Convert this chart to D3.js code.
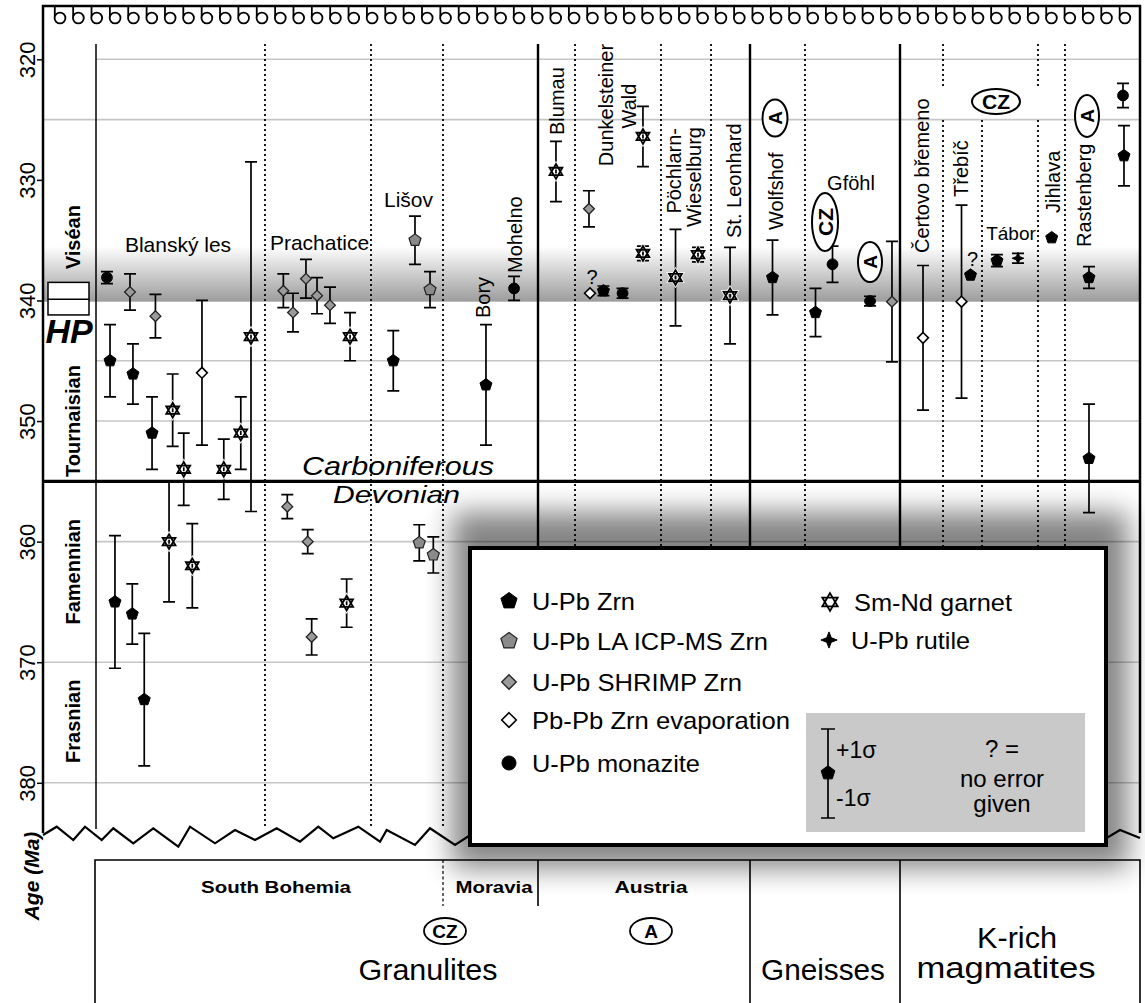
<!DOCTYPE html>
<html><head><meta charset="utf-8">
<script src="https://cdn.jsdelivr.net/npm/d3@7"></script>
<style>
body{margin:0;background:#fff;}
svg{display:block;font-family:"Liberation Sans",Arial,sans-serif;}
</style>
</head><body>
<svg id="c" width="1145" height="1003"></svg>
<script>
// ---------------- DATA ----------------
const ageTicks = [320, 330, 340, 350, 360, 370, 380];
const gridAges = [320, 325, 345, 350, 360, 370, 380];
const stageNames = ["Viséan", "Tournaisian", "Famennian", "Frasnian"];
const stageMidAges = [334.75, 350.0, 362.5, 374.9];
const periodNames = ["Carboniferous", "Devonian"];
const periodBoundary = 355;
const hpBand = [335.5, 340.1];
const hpBox = [338.5, 339.9, 341.2];

const methodKeys = ["zrn", "la", "shrimp", "pbpb", "mnz", "grt", "rut"];
const methodLabels = ["U-Pb Zrn", "U-Pb LA ICP-MS Zrn", "U-Pb SHRIMP Zrn", "Pb-Pb Zrn evaporation", "U-Pb monazite", "Sm-Nd garnet", "U-Pb rutile"];

// [method, age (Ma), 1σ error (null = no error given), slot along the profile]
const blanskyLes = [
  ["mnz", 338.1, 0.5, 5.83], ["zrn", 345.0, 3.0, 6.11], ["shrimp", 339.3, 1.5, 7.93],
  ["zrn", 346.1, 2.5, 8.20], ["zrn", 351.0, 3.0, 9.94], ["shrimp", 341.3, 1.8, 10.25],
  ["grt", 349.1, 3.0, 11.82], ["grt", 354.0, 3.0, 12.83], ["pbpb", 346.0, 6.0, 14.49],
  ["grt", 354.0, 2.5, 16.48], ["grt", 351.0, 3.0, 18.03], ["grt", 343.0, 14.5, 18.96],
  ["zrn", 365.0, 5.5, 6.56], ["zrn", 366.0, 2.5, 8.14], ["zrn", 373.1, 5.5, 9.23],
  ["grt", 360.0, 5.0, 11.49], ["grt", 362.0, 3.5, 13.61]
];
const prachatice = [
  ["shrimp", 339.2, 1.4, 21.91], ["shrimp", 341.0, 1.6, 22.79], ["shrimp", 338.2, 1.6, 23.97],
  ["shrimp", 339.6, 1.5, 24.98], ["shrimp", 340.4, 1.5, 26.16], ["grt", 343.0, 2.0, 27.99],
  ["shrimp", 357.1, 1.0, 22.27], ["shrimp", 360.0, 1.0, 24.13], ["shrimp", 367.9, 1.5, 24.49],
  ["grt", 365.1, 2.0, 27.68]
];
const lisov = [
  ["zrn", 345.0, 2.5, 31.93], ["la", 335.0, 2.0, 33.91], ["la", 339.1, 1.5, 35.28],
  ["la", 360.1, 1.5, 34.30], ["la", 361.1, 1.5, 35.58]
];
const boryMohelno = [["zrn", 347.0, 5.0, 40.38], ["mnz", 339.0, 1.0, 42.94]];
const blumau = [["grt", 329.3, 2.5, 46.76]];
const dunkelsteinerWald = [
  ["shrimp", 332.4, 1.5, 49.77], ["pbpb", 339.4, null, 49.86], ["zrn", 339.2, 0.4, 51.09],
  ["mnz", 339.4, 0.4, 52.83], ["grt", 326.4, 2.5, 54.69], ["grt", 336.1, 0.6, 54.69]
];
const poechlarnWieselburg = [["grt", 338.1, 4.0, 57.66], ["grt", 336.2, 0.6, 59.71]];
const stLeonhard = [["grt", 339.6, 4.0, 62.63]];
const wolfshof = [["zrn", 338.1, 3.1, 66.50]];
const gfoehl = [["zrn", 341.0, 2.0, 70.42], ["mnz", 337.0, 1.5, 71.97], ["mnz", 340.05, 0.4, 75.39], ["shrimp", 340.1, 5.0, 77.39]];
const certovoBremeno = [["pbpb", 343.1, 6.0, 80.22]];
const trebic = [["pbpb", 340.1, 8.0, 83.73], ["zrn", 337.9, null, 84.55]];
const tabor = [["zrn", 336.7, 0.5, 86.96], ["rut", 336.5, 0.4, 88.88]];
const jihlava = [["zrn", 334.8, 0, 91.95]];
const rastenberg = [["zrn", 338.1, 0.9, 95.35], ["mnz", 323.0, 1.0, 98.45], ["zrn", 328.0, 2.5, 98.54], ["zrn", 353.1, 4.5, 95.35]];

const horizLabels = ["Blanský les", "Prachatice", "Lišov", "Gföhl", "Tábor"];
const vertLabels = ["Bory", "Mohelno", "Blumau", "Dunkelsteiner", "Wald", "Pöchlarn-", "Wieselburg", "St. Leonhard", "Wolfshof", "Čertovo břemeno", "Třebíč", "Jihlava", "Rastenberg"];
const ovalLabels = ["A", "CZ", "A", "A", "CZ"];
const regionLabels = ["South Bohemia", "Moravia", "Austria"];
const groupLabels = ["Granulites", "Gneisses", "K-rich", "magmatites"];

// ---------------- LAYOUT ----------------
const layout = {
  left: 43, right: 1140, top: 6, bottom: 833, colTop: 44,
  horiz: [[178, 252, 21], [319.5, 250, 21], [408.5, 207, 21], [851, 190, 20], [1011, 240, 19]],
  vert: [[490, 318, "start"], [522, 273, "start"], [564, 135, "start"], [613, 105, "middle"], [636, 106, "middle"],
         [681, 128, "end"], [701, 127, "end"], [741, 238, "start"], [783, 230, "start"], [929, 253, "start"],
         [968, 197, "start"], [1060, 213, "start"], [1091, 247, "start"]],
  ovals: [[775, 118, 12.5, 18.5, true], [825, 222, 13, 29, true], [870, 262, 12, 20, true], [1087, 116, 12, 21, true], [996, 101.5, 24, 12.5, false]]
};

const svg = d3.select("#c");
const y = d3.scaleLinear().domain([320, 380]).range([59.3, 782.8]);
const x = d3.scaleLinear().domain([0, 100]).range([layout.left, layout.right]);

const defs = svg.append("defs");
const grad = defs.append("linearGradient").attr("id", "hp").attr("x1", 0).attr("y1", 0).attr("x2", 0).attr("y2", 1);
grad.append("stop").attr("offset", "0").attr("stop-color", "#ffffff");
grad.append("stop").attr("offset", "1").attr("stop-color", "#9c9c9c");
defs.append("filter").attr("id", "sh").attr("x", "-30%").attr("y", "-30%").attr("width", "160%").attr("height", "160%")
  .append("feGaussianBlur").attr("stdDeviation", 14);

svg.append("rect").attr("width", 1145).attr("height", 1003).attr("fill", "#fff");

// HP band
svg.append("rect").attr("x", layout.left).attr("y", y(hpBand[0])).attr("width", layout.right - layout.left)
  .attr("height", y(hpBand[1]) - y(hpBand[0])).attr("fill", "url(#hp)");

// grid
svg.append("g").selectAll("line").data(gridAges).join("line")
  .attr("x1", d => (d === 325 || d === 370 || d === 380) ? layout.left : 96).attr("x2", layout.right)
  .attr("y1", d => y(d)).attr("y2", d => y(d)).attr("stroke", "#c6c6c6").attr("stroke-width", 1.6);

// axis
const ax = svg.append("g").attr("transform", `translate(${layout.left},0)`)
  .call(d3.axisLeft(y).tickValues(ageTicks).tickSize(6).tickFormat(d3.format("d")));
ax.select(".domain").remove();
ax.selectAll(".tick line").attr("stroke", "#000").attr("stroke-width", 1.5);
ax.selectAll(".tick text").attr("transform", "rotate(-90)").attr("x", 0).attr("y", -8).attr("dy", 0)
  .attr("text-anchor", "middle").attr("font-size", 22).attr("fill", "#000").attr("font-family", "Liberation Sans, Arial, sans-serif");

// top loops
const nLoops = 59;
const loopG = svg.append("g").attr("fill", "#fff").attr("stroke", "#000").attr("stroke-width", 1.8);
d3.range(nLoops).forEach(i => {
  const cx = 60 + i * 18.36;
  loopG.append("line").attr("x1", cx - 5.2).attr("x2", cx - 5.2).attr("y1", layout.top).attr("y2", 16);
  loopG.append("circle").attr("cx", cx).attr("cy", 18).attr("r", 5.4);
});

// frame
svg.append("path").attr("d", `M${layout.left},${layout.bottom}V${layout.top}H${layout.right}V${layout.bottom}`)
  .attr("fill", "none").attr("stroke", "#000").attr("stroke-width", 2.5);

// separators
const solidSeps = [538, 750, 900];
svg.append("g").selectAll("line").data(solidSeps).join("line")
  .attr("x1", d => d).attr("x2", d => d).attr("y1", layout.colTop).attr("y2", 831)
  .attr("stroke", "#000").attr("stroke-width", 2.4);
svg.append("line").attr("x1", 96).attr("x2", 96).attr("y1", layout.colTop).attr("y2", 829).attr("stroke", "#000").attr("stroke-width", 1.5);
const dotSegs = [[265, 44, 829], [371, 44, 829], [443, 44, 829], [575, 44, 829], [661, 44, 829], [711, 44, 829], [805, 44, 829],
  [943, 44, 88], [943, 120, 829], [982, 120, 829], [1038, 44, 88], [1038, 120, 829], [1065, 44, 829]];
svg.append("g").selectAll("line").data(dotSegs).join("line")
  .attr("x1", d => d[0]).attr("x2", d => d[0]).attr("y1", d => d[1]).attr("y2", d => d[2])
  .attr("stroke", "#000").attr("stroke-width", 1.8).attr("stroke-dasharray", "2,3");

// boundary
svg.append("line").attr("x1", layout.left).attr("x2", layout.right).attr("y1", y(periodBoundary)).attr("y2", y(periodBoundary))
  .attr("stroke", "#000").attr("stroke-width", 3.2);

// HP box
svg.append("rect").attr("x", 48).attr("y", y(hpBox[0])).attr("width", 41).attr("height", y(hpBox[2]) - y(hpBox[0]))
  .attr("fill", "#fff").attr("stroke", "#000").attr("stroke-width", 1.5);
svg.append("line").attr("x1", 48).attr("x2", 89).attr("y1", y(hpBox[1])).attr("y2", y(hpBox[1])).attr("stroke", "#000").attr("stroke-width", 1.3);
svg.append("text").attr("x", 69).attr("y", 343).attr("text-anchor", "middle").attr("font-size", 34)
  .attr("font-weight", "bold").attr("font-style", "italic").text("HP");

// stage labels
stageNames.forEach((s, i) => {
  svg.append("text").attr("transform", `translate(80,${y(stageMidAges[i])}) rotate(-90)`).attr("text-anchor", "middle")
    .attr("font-size", 20).attr("font-weight", "bold").text(s);
});

// zigzag break
const zig = [[43, 835], [56.7, 826.7], [73.3, 840], [85, 826.7], [101.7, 840], [113.3, 828.3], [133.3, 843.3], [153.3, 828.3],
  [178.3, 846.7], [190, 826.7], [215, 843.3], [235, 830], [255, 840], [276.7, 828.3], [300, 841.7], [318.3, 826.7],
  [333.3, 838.3], [358.3, 826.7], [380, 841.7], [386.7, 830], [415, 845], [430, 828.3], [455, 845], [478, 830],
  [500, 843], [530, 828], [560, 842], [1100, 842], [1120, 830], [1140, 838]];
svg.append("path").attr("d", d3.line()(zig)).attr("fill", "none").attr("stroke", "#000").attr("stroke-width", 2.2);

// bottom table
const bt = svg.append("g").attr("stroke", "#000").attr("fill", "none");
bt.append("path").attr("d", "M95,1003V860H1140V1003").attr("stroke-width", 1.6);
bt.append("line").attr("x1", 538).attr("x2", 538).attr("y1", 860).attr("y2", 906).attr("stroke-width", 1.6);
bt.append("line").attr("x1", 443).attr("x2", 443).attr("y1", 860).attr("y2", 906).attr("stroke-width", 1.2).attr("stroke-dasharray", "3,2.5");
bt.append("line").attr("x1", 750).attr("x2", 750).attr("y1", 860).attr("y2", 1003).attr("stroke-width", 1.6);
bt.append("line").attr("x1", 900).attr("x2", 900).attr("y1", 860).attr("y2", 1003).attr("stroke-width", 1.6);
const regPos = [[276, 150], [494, 77], [651, 73]];
regionLabels.forEach((t, i) => {
  svg.append("text").attr("x", regPos[i][0]).attr("y", 893).attr("text-anchor", "middle").attr("font-size", 17)
    .attr("font-weight", "bold").attr("textLength", regPos[i][1]).attr("lengthAdjust", "spacingAndGlyphs").text(t);
});
const grpPos = [[428, 980, 139], [823, 980, 124], [1017, 948, 80], [1006, 978, 179]];
groupLabels.forEach((t, i) => {
  svg.append("text").attr("x", grpPos[i][0]).attr("y", grpPos[i][1]).attr("text-anchor", "middle").attr("font-size", 29)
    .attr("textLength", grpPos[i][2]).attr("lengthAdjust", "spacingAndGlyphs").text(t);
});
[["CZ", 445], ["A", 651]].forEach(([t, cx]) => {
  svg.append("ellipse").attr("cx", cx).attr("cy", 931).attr("rx", 21).attr("ry", 13).attr("fill", "#fff").attr("stroke", "#000").attr("stroke-width", 1.8);
  svg.append("text").attr("x", cx).attr("y", 938).attr("text-anchor", "middle").attr("font-size", 19).attr("font-weight", "bold").text(t);
});
svg.append("text").attr("transform", "translate(39,876) rotate(-90)").attr("text-anchor", "middle").attr("font-size", 21)
  .attr("font-weight", "bold").attr("font-style", "italic").text("Age (Ma)");

// legend shadow
svg.append("rect").attr("x", 452).attr("y", 512).attr("width", 676).attr("height", 356).attr("fill", "#000")
  .attr("opacity", 0.48).attr("filter", "url(#sh)");

// period labels
svg.append("text").attr("x", 398).attr("y", 475).attr("text-anchor", "middle").attr("font-size", 26).attr("font-style", "italic")
  .attr("textLength", 192).attr("lengthAdjust", "spacingAndGlyphs").text(periodNames[0]);
svg.append("text").attr("x", 396.5).attr("y", 503).attr("text-anchor", "middle").attr("font-size", 24).attr("font-style", "italic")
  .attr("textLength", 127).attr("lengthAdjust", "spacingAndGlyphs").text(periodNames[1]);

// ---------------- MARKERS ----------------
function poly(r, n, rot) {
  return "M" + d3.range(n).map(k => {
    const a = (rot + k * 360 / n) * Math.PI / 180;
    return [r * Math.cos(a), r * Math.sin(a)].map(v => v.toFixed(2)).join(",");
  }).join("L") + "Z";
}
function markerPath(m, s) {
  switch (m) {
    case "zrn": case "la": return poly(6.3 * s, 5, -90);
    case "shrimp": case "pbpb": return poly(5.4 * s, 4, -90);
    case "grt": return poly(7.4 * s, 3, -90) + poly(7.4 * s, 3, 90);
    case "rut": { const r = 5.8 * s, q = r * 0.28; return `M0,${-r}L${q},${-q}L${r},0L${q},${q}L0,${r}L${-q},${q}L${-r},0L${-q},${-q}Z`; }
    case "mnz": { const r = 5.4 * s; return `M${-r},0A${r},${r} 0 1,0 ${r},0A${r},${r} 0 1,0 ${-r},0Z`; }
  }
}
const markerStyle = {
  zrn: {fill: "#000", stroke: "#000", sw: 1},
  la: {fill: "#8a8a8a", stroke: "#222", sw: 1.2},
  shrimp: {fill: "#9a9a9a", stroke: "#222", sw: 1.3},
  pbpb: {fill: "#fff", stroke: "#000", sw: 1.6},
  mnz: {fill: "#000", stroke: "#000", sw: 1},
  grt: {fill: "none", stroke: "#000", sw: 1.8},
  rut: {fill: "#000", stroke: "#000", sw: 1}
};
function drawMarker(g, m, cx, cy, s) {
  const st = markerStyle[m];
  if (m === "grt") {
    g.append("path").attr("transform", `translate(${cx},${cy})`).attr("d", markerPath(m, s))
      .attr("fill", "none").attr("stroke", "#fff").attr("stroke-width", 3.4).attr("stroke-linejoin", "miter");
  }
  g.append("path").attr("transform", `translate(${cx},${cy})`).attr("d", markerPath(m, s))
    .attr("fill", st.fill).attr("stroke", st.stroke).attr("stroke-width", st.sw).attr("stroke-linejoin", "miter");
}
function errBar(g, cx, y1, y2, cap) {
  g.append("path").attr("d", `M${cx},${y1}V${y2}M${cx - cap},${y1}H${cx + cap}M${cx - cap},${y2}H${cx + cap}`)
    .attr("fill", "none").attr("stroke", "#000").attr("stroke-width", 1.7);
}

const allSamples = [].concat(blanskyLes, prachatice, lisov, boryMohelno, blumau, dunkelsteinerWald, poechlarnWieselburg,
  stLeonhard, wolfshof, gfoehl, certovoBremeno, trebic, tabor, jihlava, rastenberg)
  .map(([m, age, err, slot]) => ({m, age, err, slot}));

const dataG = svg.append("g");
allSamples.forEach(d => {
  const cx = x(d.slot);
  if (d.err) errBar(dataG, cx, y(d.age - d.err), y(d.age + d.err), 6);
});
allSamples.forEach(d => {
  const cx = x(d.slot), cy = y(d.age);
  drawMarker(dataG, d.m, cx, cy, 1);
  if (d.err === null) {
    dataG.append("text").attr("x", cx + 2).attr("y", cy - 9).attr("text-anchor", "middle").attr("font-size", 20).text("?");
  }
});

// ---------------- LABELS ----------------
horizLabels.forEach((t, i) => {
  const [lx, ly, fs] = layout.horiz[i];
  svg.append("text").attr("x", lx).attr("y", ly).attr("text-anchor", "middle").attr("font-size", fs).text(t);
});
vertLabels.forEach((t, i) => {
  const [lx, ly, anc] = layout.vert[i];
  svg.append("text").attr("transform", `translate(${lx},${ly}) rotate(-90)`).attr("text-anchor", anc).attr("font-size", 20).text(t);
});
ovalLabels.forEach((t, i) => {
  const [cx, cy, rx, ry, rot] = layout.ovals[i];
  svg.append("ellipse").attr("cx", cx).attr("cy", cy).attr("rx", rx).attr("ry", ry)
    .attr("fill", "#fff").attr("stroke", "#000").attr("stroke-width", 2);
  svg.append("text").attr("transform", `translate(${cx},${cy})` + (rot ? " rotate(-90)" : ""))
    .attr("text-anchor", "middle").attr("dy", "0.36em").attr("font-size", t === "CZ" ? 21 : 19).attr("font-weight", "bold").text(t);
});

// ---------------- LEGEND ----------------
const lg = svg.append("g");
lg.append("rect").attr("x", 470).attr("y", 548).attr("width", 636).attr("height", 297)
  .attr("fill", "#fff").attr("stroke", "#000").attr("stroke-width", 4);
const legRowY = [601, 641, 682, 720, 763];
const legW = [103, 236, 210, 258, 168];
methodKeys.slice(0, 5).forEach((m, i) => {
  drawMarker(lg, m, 509, legRowY[i], m === "mnz" ? 1.3 : 1.35);
  lg.append("text").attr("x", 532).attr("y", legRowY[i] + 8.5).attr("font-size", 24)
    .attr("textLength", legW[i]).attr("lengthAdjust", "spacingAndGlyphs").text(methodLabels[i]);
});
drawMarker(lg, "grt", 830, 602, 1.2);
lg.append("text").attr("x", 854).attr("y", 610.5).attr("font-size", 24).attr("textLength", 158).attr("lengthAdjust", "spacingAndGlyphs").text(methodLabels[5]);
drawMarker(lg, "rut", 829, 640, 1.4);
lg.append("text").attr("x", 851).attr("y", 648.5).attr("font-size", 24).attr("textLength", 119).attr("lengthAdjust", "spacingAndGlyphs").text(methodLabels[6]);
lg.append("rect").attr("x", 806).attr("y", 713).attr("width", 279).attr("height", 119).attr("fill", "#c9c9c9");
errBar(lg, 828, 729, 818, 7);
drawMarker(lg, "zrn", 828, 773, 1.15);
lg.append("text").attr("x", 836).attr("y", 758).attr("font-size", 23).text("+1σ");
lg.append("text").attr("x", 836).attr("y", 806).attr("font-size", 23).text("-1σ");
[["? =", 757], ["no error", 787], ["given", 812]].forEach(([t, yy]) => {
  lg.append("text").attr("x", 1002).attr("y", yy).attr("text-anchor", "middle").attr("font-size", 24).text(t);
});
</script>
</body></html>
